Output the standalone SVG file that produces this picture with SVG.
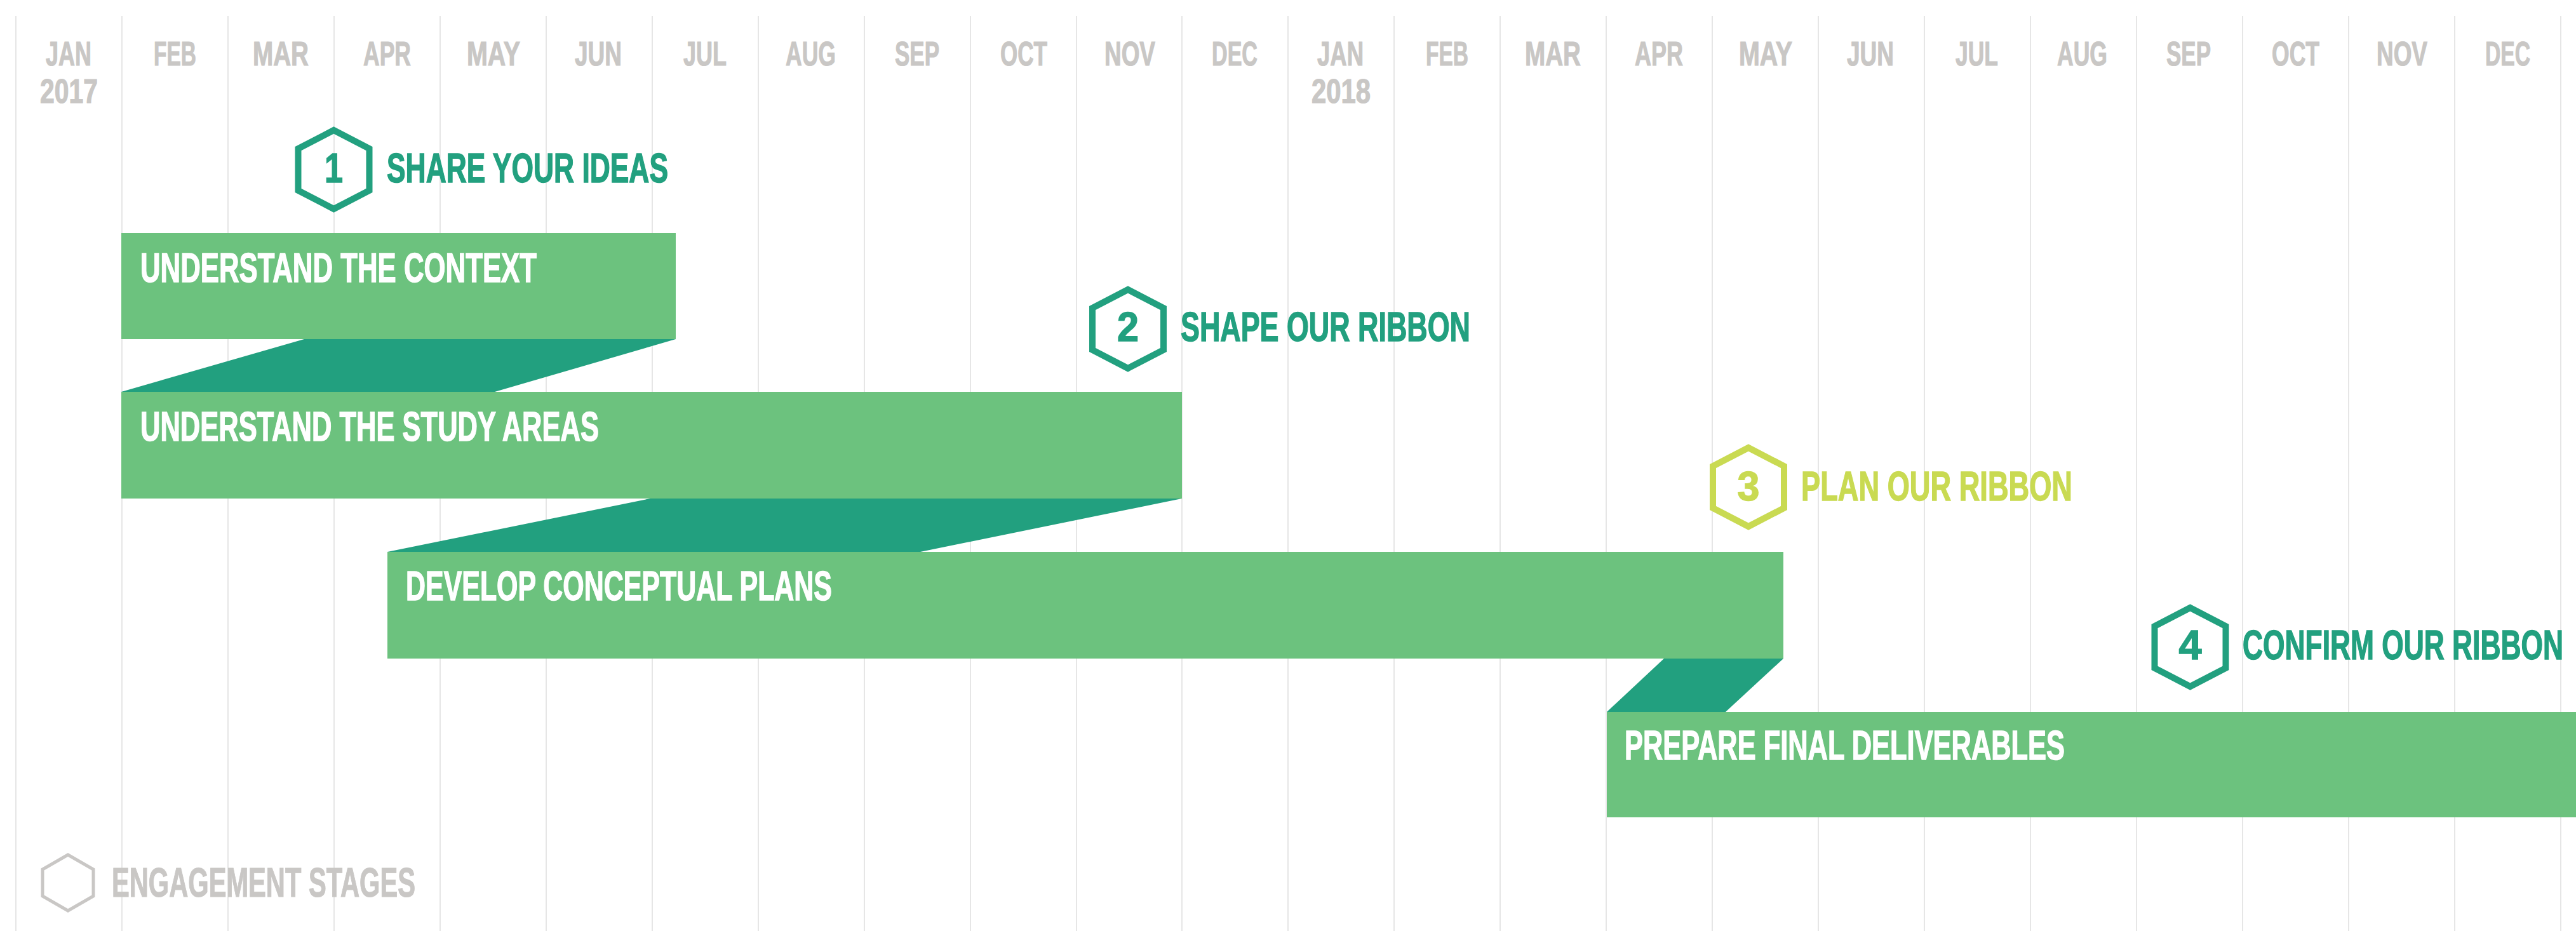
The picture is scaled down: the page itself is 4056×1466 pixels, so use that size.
<svg xmlns="http://www.w3.org/2000/svg" width="4056" height="1466" viewBox="0 0 4056 1466">
<style>
.grid{stroke:#e6e6e6;stroke-width:2}
.t{font-family:"Liberation Sans",Arial,sans-serif;font-weight:700}
.mo{font-size:53px;fill:#c9c7c5;stroke:#c9c7c5;stroke-width:1.2}
.bar{fill:#6cc27e}
.fold{fill:#22a07f}
.bl{font-size:65px;fill:#ffffff;stroke:#ffffff;stroke-width:1.5}
.st{font-size:65px;stroke-width:1.5}
.teal{fill:#22a07f;stroke:#22a07f}
.lime{fill:#c9da52;stroke:#c9da52}
.hex{fill:none;stroke-width:10;stroke-linejoin:miter}
</style>
<defs>
<path id="hx" d="M0,-62 L56,-33 L56,33 L0,62 L-56,33 L-56,-33 Z"/>
</defs>
<rect width="4056" height="1466" fill="#ffffff"/>
<g id="grid">
<line class="grid" x1="25" y1="25" x2="25" y2="1466"/>
<line class="grid" x1="192" y1="25" x2="192" y2="1466"/>
<line class="grid" x1="359" y1="25" x2="359" y2="1466"/>
<line class="grid" x1="526" y1="25" x2="526" y2="1466"/>
<line class="grid" x1="693" y1="25" x2="693" y2="1466"/>
<line class="grid" x1="860" y1="25" x2="860" y2="1466"/>
<line class="grid" x1="1027" y1="25" x2="1027" y2="1466"/>
<line class="grid" x1="1194" y1="25" x2="1194" y2="1466"/>
<line class="grid" x1="1361" y1="25" x2="1361" y2="1466"/>
<line class="grid" x1="1528" y1="25" x2="1528" y2="1466"/>
<line class="grid" x1="1695" y1="25" x2="1695" y2="1466"/>
<line class="grid" x1="1861" y1="25" x2="1861" y2="1466"/>
<line class="grid" x1="2028" y1="25" x2="2028" y2="1466"/>
<line class="grid" x1="2195" y1="25" x2="2195" y2="1466"/>
<line class="grid" x1="2362" y1="25" x2="2362" y2="1466"/>
<line class="grid" x1="2529" y1="25" x2="2529" y2="1466"/>
<line class="grid" x1="2696" y1="25" x2="2696" y2="1466"/>
<line class="grid" x1="2863" y1="25" x2="2863" y2="1466"/>
<line class="grid" x1="3030" y1="25" x2="3030" y2="1466"/>
<line class="grid" x1="3197" y1="25" x2="3197" y2="1466"/>
<line class="grid" x1="3364" y1="25" x2="3364" y2="1466"/>
<line class="grid" x1="3531" y1="25" x2="3531" y2="1466"/>
<line class="grid" x1="3698" y1="25" x2="3698" y2="1466"/>
<line class="grid" x1="3865" y1="25" x2="3865" y2="1466"/>
<line class="grid" x1="4032" y1="25" x2="4032" y2="1466"/>
</g>
<g id="months" class="t mo">
<text x="72" y="103" textLength="72" lengthAdjust="spacingAndGlyphs">JAN</text>
<text x="63" y="162" textLength="91" lengthAdjust="spacingAndGlyphs">2017</text>
<text x="242" y="103" textLength="67" lengthAdjust="spacingAndGlyphs">FEB</text>
<text x="398" y="103" textLength="88" lengthAdjust="spacingAndGlyphs">MAR</text>
<text x="572" y="103" textLength="75" lengthAdjust="spacingAndGlyphs">APR</text>
<text x="735" y="103" textLength="84" lengthAdjust="spacingAndGlyphs">MAY</text>
<text x="905" y="103" textLength="74" lengthAdjust="spacingAndGlyphs">JUN</text>
<text x="1076" y="103" textLength="68" lengthAdjust="spacingAndGlyphs">JUL</text>
<text x="1237" y="103" textLength="79" lengthAdjust="spacingAndGlyphs">AUG</text>
<text x="1409" y="103" textLength="70" lengthAdjust="spacingAndGlyphs">SEP</text>
<text x="1575" y="103" textLength="74" lengthAdjust="spacingAndGlyphs">OCT</text>
<text x="1739" y="103" textLength="80" lengthAdjust="spacingAndGlyphs">NOV</text>
<text x="1908" y="103" textLength="72" lengthAdjust="spacingAndGlyphs">DEC</text>
<text x="2074" y="103" textLength="73" lengthAdjust="spacingAndGlyphs">JAN</text>
<text x="2065" y="162" textLength="93" lengthAdjust="spacingAndGlyphs">2018</text>
<text x="2245" y="103" textLength="67" lengthAdjust="spacingAndGlyphs">FEB</text>
<text x="2401" y="103" textLength="88" lengthAdjust="spacingAndGlyphs">MAR</text>
<text x="2574" y="103" textLength="76" lengthAdjust="spacingAndGlyphs">APR</text>
<text x="2738" y="103" textLength="84" lengthAdjust="spacingAndGlyphs">MAY</text>
<text x="2908" y="103" textLength="74" lengthAdjust="spacingAndGlyphs">JUN</text>
<text x="3079" y="103" textLength="67" lengthAdjust="spacingAndGlyphs">JUL</text>
<text x="3239" y="103" textLength="79" lengthAdjust="spacingAndGlyphs">AUG</text>
<text x="3411" y="103" textLength="70" lengthAdjust="spacingAndGlyphs">SEP</text>
<text x="3577" y="103" textLength="75" lengthAdjust="spacingAndGlyphs">OCT</text>
<text x="3742" y="103" textLength="80" lengthAdjust="spacingAndGlyphs">NOV</text>
<text x="3913" y="103" textLength="71" lengthAdjust="spacingAndGlyphs">DEC</text>
</g>
<g id="connectors">
<polygon class="fold" points="479,534 1064,534 779,617 191,617"/>
<polygon class="fold" points="1024,785 1861,785 1449,869 610,869"/>
<polygon class="fold" points="2620,1037 2808,1037 2717,1121 2530,1121"/>
</g>
<g id="bar-context">
<rect class="bar" x="191" y="367" width="873" height="167"/>
<text class="t bl" x="221" y="444" textLength="624" lengthAdjust="spacingAndGlyphs">UNDERSTAND THE CONTEXT</text>
</g>
<g id="bar-study-areas">
<rect class="bar" x="191" y="617" width="1670" height="168"/>
<text class="t bl" x="221" y="694" textLength="722" lengthAdjust="spacingAndGlyphs">UNDERSTAND THE STUDY AREAS</text>
</g>
<g id="bar-conceptual">
<rect class="bar" x="610" y="869" width="2198" height="168"/>
<text class="t bl" x="639" y="945" textLength="671" lengthAdjust="spacingAndGlyphs">DEVELOP CONCEPTUAL PLANS</text>
</g>
<g id="bar-deliverables">
<rect class="bar" x="2530" y="1121" width="1526" height="166"/>
<text class="t bl" x="2558" y="1196" textLength="693" lengthAdjust="spacingAndGlyphs">PREPARE FINAL DELIVERABLES</text>
</g>
<g id="stage-1">
<use href="#hx" x="525.5" y="267" class="hex" stroke="#22a07f"/>
<text class="t st teal" x="525.5" y="287" text-anchor="middle" textLength="29" lengthAdjust="spacingAndGlyphs">1</text>
<text class="t st teal" x="609" y="287" textLength="443" lengthAdjust="spacingAndGlyphs">SHARE YOUR IDEAS</text>
</g>
<g id="stage-2">
<use href="#hx" x="1776" y="518" class="hex" stroke="#22a07f"/>
<text class="t st teal" x="1776" y="537" text-anchor="middle" textLength="34" lengthAdjust="spacingAndGlyphs">2</text>
<text class="t st teal" x="1859" y="537" textLength="456" lengthAdjust="spacingAndGlyphs">SHAPE OUR RIBBON</text>
</g>
<g id="stage-3">
<use href="#hx" x="2753" y="767" class="hex" stroke="#c9da52"/>
<text class="t st lime" x="2753" y="788" text-anchor="middle" textLength="35" lengthAdjust="spacingAndGlyphs">3</text>
<text class="t st lime" x="2836" y="788" textLength="427" lengthAdjust="spacingAndGlyphs">PLAN OUR RIBBON</text>
</g>
<g id="stage-4">
<use href="#hx" x="3448.5" y="1019" class="hex" stroke="#22a07f"/>
<text class="t st teal" x="3448.5" y="1038" text-anchor="middle" textLength="36" lengthAdjust="spacingAndGlyphs">4</text>
<text class="t st teal" x="3531" y="1038" textLength="505" lengthAdjust="spacingAndGlyphs">CONFIRM OUR RIBBON</text>
</g>
<g id="legend">
<path d="M107,1346 L147,1369 L147,1411 L107,1434 L67,1411 L67,1369 Z" fill="none" stroke="#c9c7c5" stroke-width="5"/>
<text class="t mo" x="176" y="1412" style="font-size:65px" textLength="478" lengthAdjust="spacingAndGlyphs">ENGAGEMENT STAGES</text>
</g>
</svg>
